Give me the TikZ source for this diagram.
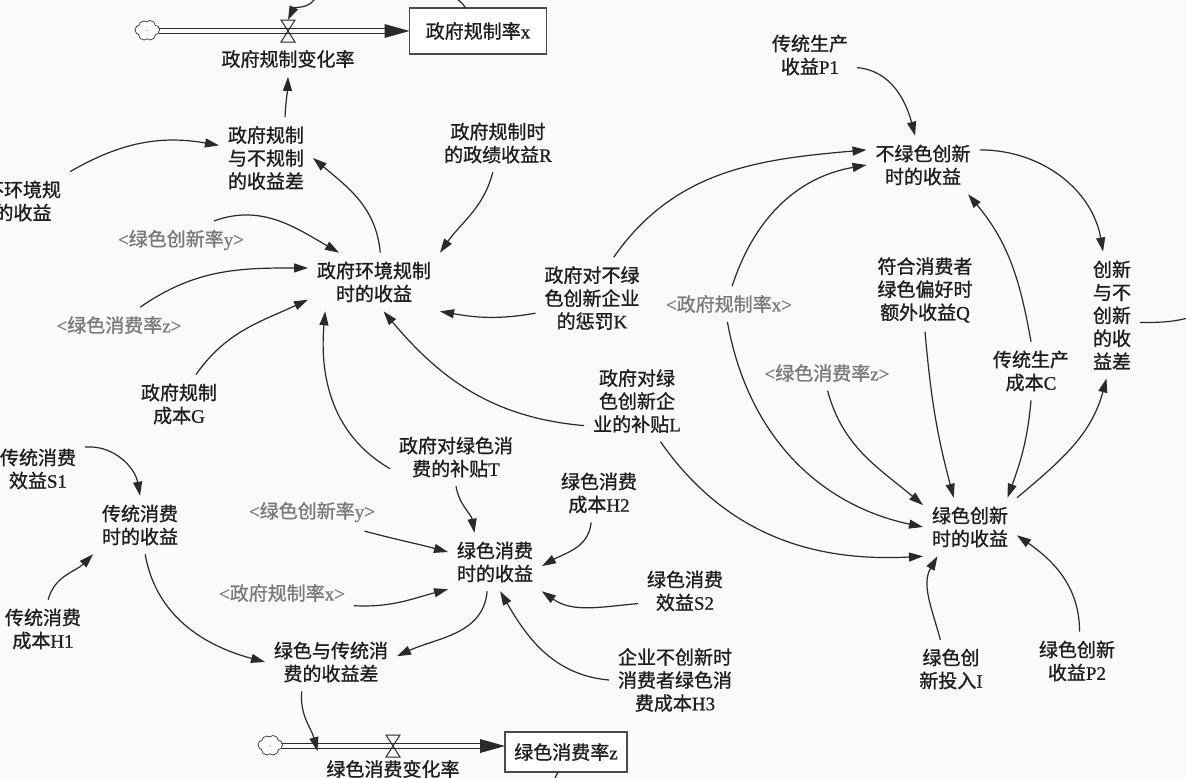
\documentclass[tikz,border=0pt]{standalone}
\usepackage{fontspec}
\setmainfont{Liberation Serif}[FakeBold=0.8]
\newfontfamily\cjk{Noto Sans CJK SC}[FakeBold=1.0]
\usetikzlibrary{arrows.meta,calc}
\newcommand\ltn[1]{{\rmfamily #1}}
\newcommand\labfs{\fontsize{19}{23}\selectfont}
\definecolor{lc}{HTML}{2A2A2A}
\definecolor{tc}{HTML}{1E1E1E}
\definecolor{sc}{HTML}{7A7A7A}
\definecolor{bg}{HTML}{FAFAFA}
\newcommand\drawcloud[1]{%
  \foreach \dx/\dy/\r in {-7/1/4.5,-3/4.5/5,3/5/5,7.5/1/4.5,3/-3.5/5,-3/-3.5/5}{\draw[lc,line width=1.6pt] ($(#1.center)+(\dx,\dy)$) circle[radius=\r];}
  \foreach \dx/\dy/\r in {-7/1/4.5,-3/4.5/5,3/5/5,7.5/1/4.5,3/-3.5/5,-3/-3.5/5}{\fill[white] ($(#1.center)+(\dx,\dy)$) circle[radius=\r];}
}
\newcommand\drawvalve[1]{%
  \draw[lc,line width=1pt] ($(#1.center)+(-7,11)$) -- ($(#1.center)+(7,11)$) -- (#1.center) -- cycle;
  \draw[lc,line width=1pt] ($(#1.center)+(-7,-11)$) -- ($(#1.center)+(7,-11)$) -- (#1.center) -- cycle;
}
\begin{document}
\begin{tikzpicture}[x=1pt,y=1pt,
  lab/.style={align=center,font=\cjk\labfs,text=tc,inner sep=5pt,outer sep=4pt},
  sh/.style={lab,text=sc},
  stock/.style={draw=lc!85,line width=1.1pt,fill=white,font=\cjk\labfs,text=tc,inner sep=3pt,outer sep=0pt},
  link/.style={draw=lc,line width=1.2pt,-{Triangle[length=14pt,width=9pt]}},
  lineonly/.style={draw=lc,line width=1.2pt},
  flowline/.style={draw=lc,line width=1.1pt},
  vlv/.style={inner sep=0pt,outer sep=0pt,minimum width=16pt,minimum height=22pt}]
\useasboundingbox (0,0) rectangle (1186,-777);
\fill[bg] (0,0) rectangle (1186,-777);
\clip (0,0) rectangle (1186,-777);

% ---------- top flow ----------
\node[stock,minimum width=137pt,minimum height=46pt] (stockx) at (478,-31) {政府规制率\ltn{x}};
\node[vlv,minimum width=24pt,minimum height=17pt] (cloudx) at (147,-31) {};
\node[vlv] (vx) at (288,-31) {};
\node[lab] (rx) at (288,-59) {政府规制变化率};
\draw[flowline] ([yshift=2.5pt]cloudx.east) -- ([yshift=2.5pt,xshift=-22pt]stockx.west);
\draw[flowline] ([yshift=-2.5pt]cloudx.east) -- ([yshift=-2.5pt,xshift=-22pt]stockx.west);
\fill[lc] ([xshift=-25pt,yshift=7pt]stockx.west) -- (stockx.west) -- ([xshift=-25pt,yshift=-7pt]stockx.west) -- cycle;
\drawcloud{cloudx}
\drawvalve{vx}
\coordinate (tA) at (316,4);
\coordinate (tB) at (455,4);

% ---------- bottom flow ----------
\node[stock,minimum width=122pt,minimum height=40pt] (stockz) at (566,-752) {绿色消费率\ltn{z}};
\node[vlv,minimum width=24pt,minimum height=17pt] (cloudz) at (270,-746) {};
\node[vlv] (vz) at (393,-746) {};
\node[lab] (rz) at (393,-769) {绿色消费变化率};
\draw[flowline] ([yshift=2.5pt]cloudz.east) -- ([yshift=8.5pt,xshift=-22pt]stockz.west);
\draw[flowline] ([yshift=-2.5pt]cloudz.east) -- ([yshift=3.5pt,xshift=-22pt]stockz.west);
\fill[lc] ([xshift=-25pt,yshift=13pt]stockz.west) -- ([yshift=6pt]stockz.west) -- ([xshift=-25pt,yshift=-1pt]stockz.west) -- cycle;
\drawcloud{cloudz}
\drawvalve{vz}
\coordinate (bC) at (553,-782);

% ---------- left / centre nodes ----------
\node[lab] (nogov) at (4,-201) {政府不环境规\\制时的收益};
\node[lab] (govdiff) at (266,-158) {政府规制\\与不规制\\的收益差};
\node[lab] (R) at (498,-143) {政府规制时\\的政绩收益\ltn{R}};
\node[lab] (gov) at (374,-282) {政府环境规制\\时的收益};
\node[sh] (y1) at (181,-240) {\ltn{<}绿色创新率\ltn{y>}};
\node[sh] (z1) at (119,-325) {\ltn{<}绿色消费率\ltn{z>}};
\node[lab] (G) at (179,-404) {政府规制\\成本\ltn{G}};
\node[lab] (T) at (456,-457) {政府对绿色消\\费的补贴\ltn{T}};
\node[lab] (L) at (637,-401) {政府对绿\\色创新企\\业的补贴\ltn{L}};
\node[lab] (K) at (592,-298) {政府对不绿\\色创新企业\\的惩罚\ltn{K}};
\node[lab] (S1) at (38,-469) {传统消费\\效益\ltn{S1}};
\node[lab] (trad) at (140,-525) {传统消费\\时的收益};
\node[lab] (H1) at (43,-629) {传统消费\\成本\ltn{H1}};
\node[lab] (gt) at (331,-662) {绿色与传统消\\费的收益差};
\node[lab] (green) at (495,-562) {绿色消费\\时的收益};
\node[sh] (y2) at (312,-512) {\ltn{<}绿色创新率\ltn{y>}};
\node[sh] (x2) at (282,-593) {\ltn{<}政府规制率\ltn{x>}};
\node[lab] (H2) at (599,-493) {绿色消费\\成本\ltn{H2}};
\node[lab] (S2) at (685,-591) {绿色消费\\效益\ltn{S2}};
\node[lab] (H3) at (675,-680) {企业不创新时\\消费者绿色消\\费成本\ltn{H3}};

% ---------- right nodes ----------
\node[lab] (P1) at (810,-55) {传统生产\\收益\ltn{P1}};
\node[lab] (nogreen) at (923,-165) {不绿色创新\\时的收益};
\node[lab] (diff) at (1112,-315) {创新\\与不\\创新\\的收\\益差};
\node[lab] (Q) at (925,-290) {符合消费者\\绿色偏好时\\额外收益\ltn{Q}};
\node[lab] (C) at (1031,-371) {传统生产\\成本\ltn{C}};
\node[sh] (x3) at (729,-304) {\ltn{<}政府规制率\ltn{x>}};
\node[sh] (z3) at (827,-373) {\ltn{<}绿色消费率\ltn{z>}};
\node[lab] (gi) at (970,-527) {绿色创新\\时的收益};
\node[lab] (I) at (951,-669) {绿色创\\新投入\ltn{I}};
\node[lab] (P2) at (1077,-661) {绿色创新\\收益\ltn{P2}};
\coordinate (redge) at (1192,-317);

% ---------- connectors ----------
\draw[link] (nogov.north east) to[out=30,in=170] (govdiff.165);
\draw[link] (gov.78) to[out=95,in=-40] (govdiff.east);
\draw[link] (govdiff.65) to[out=88,in=-92] (rx.south);
\draw[link] (tA) to[out=-110,in=65] (vx.north);
\draw[lineonly] (tB) to[out=-60,in=115] ([xshift=56pt]stockx.north west);
\draw[link] (R.-100) to[out=-105,in=55] (gov.north east);
\draw[link] (y1.30) to[out=20,in=150] (gov.140);
\draw[link] (z1.40) to[out=35,in=180] (gov.168);
\draw[link] (G.60) to[out=55,in=205] (gov.195);
\draw[link] (T.190) to[out=150,in=-95] (gov.211);
\draw[link] (L.205) to[out=175,in=-50] (gov.-72);
\draw[link] (K.195) to[out=190,in=-10] (gov.south east);
\draw[link] (K.62) to[out=55,in=185] (nogreen.165);
\draw[link] (x3.80) to[out=72,in=190] (nogreen.west);
\draw[link] (x3.-95) to[out=-80,in=168] (gi.west);
\draw[link] (L.-60) to[out=-55,in=183] (gi.south west);
\draw[link] (z3.-88) to[out=-75,in=140] (gi.155);
\draw[link] (Q.south) to[out=-85,in=105] (gi.119);
\draw[link] (C.south) to[out=-95,in=70] (gi.38);
\draw[link] (C.north) to[out=100,in=-50] (nogreen.-33);
\draw[link] (gi.north east) to[out=40,in=-105] (diff.-95);
\draw[link] (nogreen.15) to[out=0,in=100] (diff.98);
\draw[link] (P1.-15) to[out=-5,in=105] (nogreen.105);
\draw[link] (I.110) to[out=105,in=-120] (gi.-138);
\draw[link] (P2.85) to[out=90,in=-35] (gi.-10);
\draw[lineonly] (diff.-15) to[out=0,in=195] (redge);
\draw[link] (S1.25) to[out=5,in=100] (trad.north);
\draw[link] (H1.80) to[out=75,in=-135] (trad.south west);
\draw[link] (trad.-80) to[out=-80,in=165] (gt.west);
\draw[link] (green.-105) to[out=-95,in=25] (gt.5);
\draw[link] (T.south) to[out=-80,in=100] (green.125);
\draw[link] (y2.-20) to[out=-15,in=165] (green.168);
\draw[link] (x2.-10) to[out=-3,in=195] (green.210);
\draw[link] (H2.-105) to[out=-95,in=30] (green.-5);
\draw[link] (S2.195) to[out=185,in=-35] (green.-32);
\draw[link] (H3.180) to[out=175,in=-60] (green.-80);
\draw[link] (gt.-135) to[out=-95,in=105] (rz.north west);
\draw[lineonly] ([xshift=-8pt]stockz.south) -- (bC);
\end{tikzpicture}
\end{document}
